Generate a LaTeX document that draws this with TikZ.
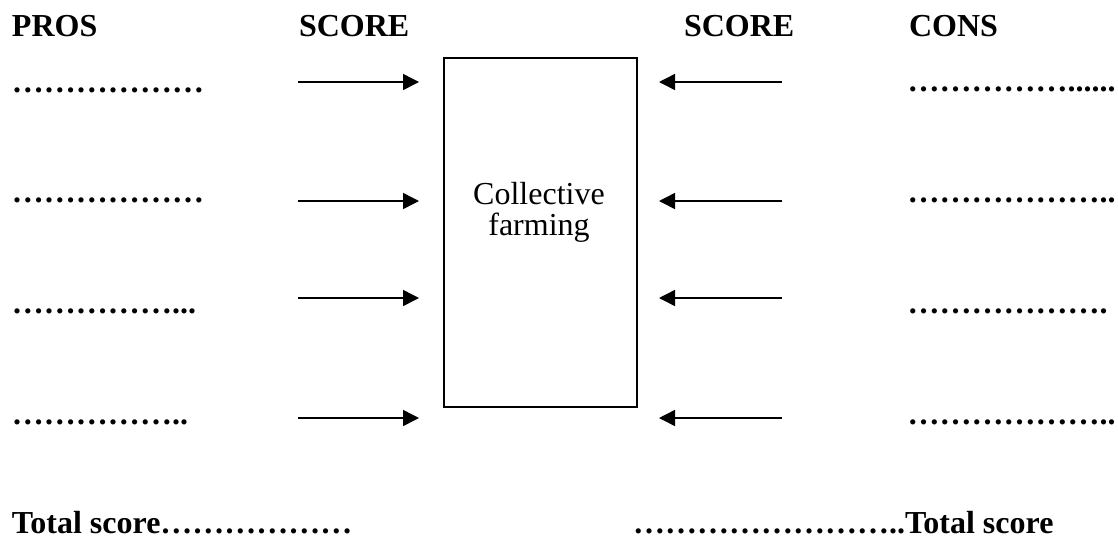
\documentclass[tikz,border=0pt]{standalone}
\usepackage{fontspec}
\setmainfont{Liberation Serif}
\usetikzlibrary{arrows.meta}
\begin{document}
\begin{tikzpicture}[x=1pt,y=-1pt,
  lbl/.style={anchor=base west,inner sep=0pt,outer sep=0pt,font=\fontsize{32}{38}\selectfont\bfseries},
  plain/.style={anchor=base,inner sep=0pt,outer sep=0pt,align=center,font=\fontsize{32}{31}\selectfont},
  arr/.style={line width=1.5pt,-{Triangle[length=16pt,width=16pt]}},
  boxst/.style={draw,line width=1.5pt,inner sep=0pt,minimum width=193pt,minimum height=349pt,anchor=north west}]
\useasboundingbox (0,0) rectangle (1118,539);
% headers
\node[lbl] (pros) at (12,36) {PROS};
\node[lbl] (scoreL) at (299,36) {SCORE};
\node[lbl] (scoreR) at (684,36) {SCORE};
\node[lbl] (cons) at (909,36) {CONS};
% left dotted entries
\node[lbl] (p1) at (12,92) {………………};
\node[lbl] (p2) at (12,202.5) {………………};
\node[lbl] (p3) at (12,313) {……………...};
\node[lbl] (p4) at (12,424) {……………..};
% right dotted entries
\node[lbl] (c1) at (907.5,91) {……………......};
\node[lbl] (c2) at (907.5,202.5) {………………..};
\node[lbl] (c3) at (907.5,313) {……………….};
\node[lbl] (c4) at (907.5,424) {………………..};
% box
\node[boxst] (box) at (443,57) {};
\node[plain] (cf) at (539,235) {Collective\\farming};
% arrow coordinates
\coordinate (ls1) at (298,82);  \coordinate (le1) at (419,82);
\coordinate (ls2) at (298,201); \coordinate (le2) at (419,201);
\coordinate (ls3) at (298,298); \coordinate (le3) at (419,298);
\coordinate (ls4) at (298,418); \coordinate (le4) at (419,418);
\coordinate (rs1) at (782,82);  \coordinate (re1) at (659,82);
\coordinate (rs2) at (782,201); \coordinate (re2) at (659,201);
\coordinate (rs3) at (782,298); \coordinate (re3) at (659,298);
\coordinate (rs4) at (782,418); \coordinate (re4) at (659,418);
\foreach \i in {1,2,3,4}{
  \draw[arr] (ls\i) -- (le\i);
  \draw[arr] (rs\i) -- (re\i);
}
% totals
\node[lbl] (totL) at (12,533) {Total score………………};
\node[lbl] (totR) at (633,533) {……………………..Total score};
\end{tikzpicture}
\end{document}
